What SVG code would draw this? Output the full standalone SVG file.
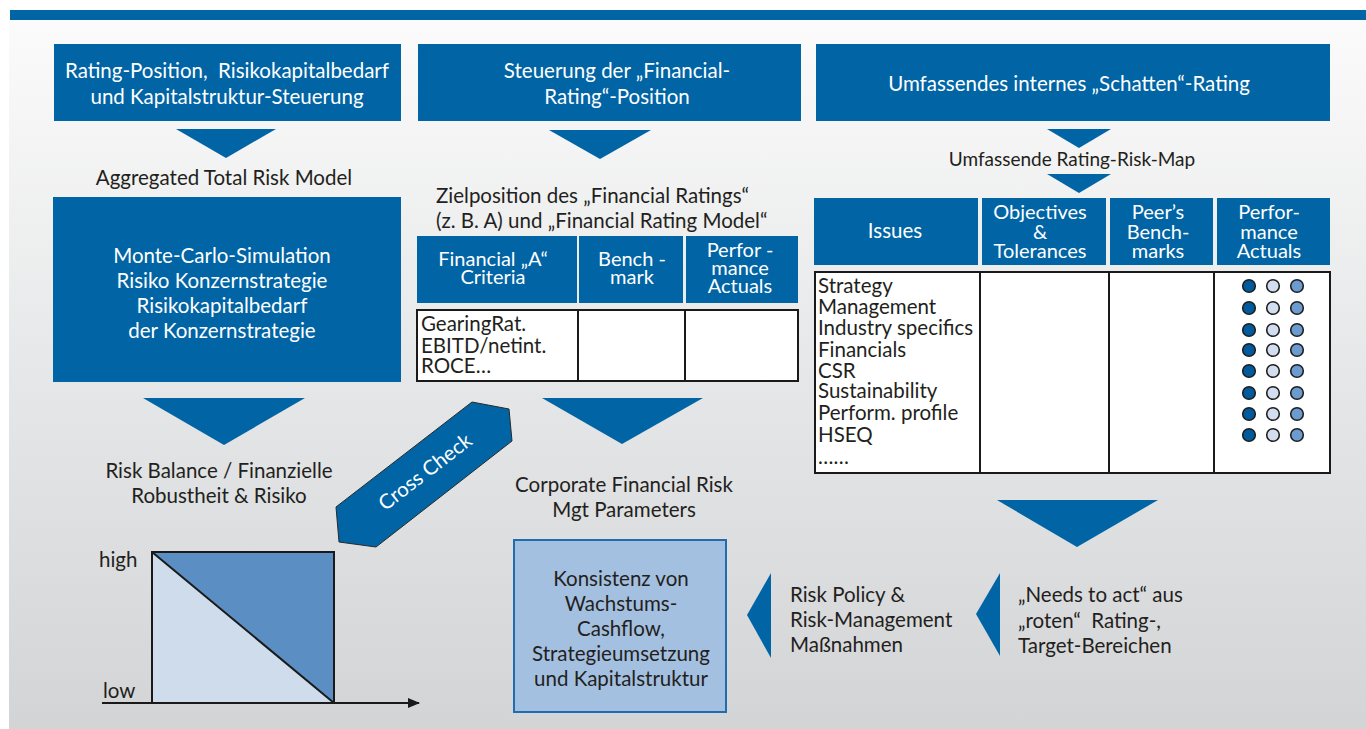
<svg xmlns="http://www.w3.org/2000/svg" width="1366" height="729" viewBox="0 0 1366 729">
  <defs>
    <linearGradient id="panelGrad" x1="0" y1="0" x2="0" y2="1">
      <stop offset="0" stop-color="#fbfbfb"/>
      <stop offset="0.5" stop-color="#e6e7e8"/>
      <stop offset="1" stop-color="#d3d4d6"/>
    </linearGradient>
    <marker id="axisHead" markerWidth="12" markerHeight="10" refX="11" refY="5" orient="auto" markerUnits="userSpaceOnUse">
      <path d="M0,0 L12,5 L0,10 z" fill="#1a1a1a"/>
    </marker>
    <style>
      text { font-family: Lato, "Open Sans", "Liberation Sans", sans-serif; font-size: 20.5px; fill: #231f20; }
      .w { fill: #ffffff; }
      .c { text-anchor: middle; }
      .hc { font-size: 20px; }
      .pre { white-space: pre; }
      .blue { fill: #0064a5; }
      .arrow { fill: #0064a5; }
      .cell { fill: #ffffff; stroke: #1a1a1a; stroke-width: 2; }
      .grid { stroke: #1a1a1a; stroke-width: 2; }
      .dot { stroke: #1f1f1f; stroke-width: 1.6; }
      .d1 { fill: #005a9c; }
      .d2 { fill: #d2def0; }
      .d3 { fill: #6c9bd0; }
    </style>
  </defs>

  <!-- page background -->
  <rect x="0" y="0" width="1366" height="729" fill="#ffffff"/>
  <rect x="9" y="20" width="1357" height="709" fill="url(#panelGrad)"/>
  <rect x="10" y="10" width="1356" height="10" fill="#0064a5"/>

  <!-- connectors: flow arrows -->
  <g id="connectors">
    <polygon class="arrow" points="176,129 276,129 226,158"/>
    <polygon class="arrow" points="549,130 651,130 600,159"/>
    <polygon class="arrow" points="1047,129 1111,129 1079,148"/>
    <polygon class="arrow" points="1047,174 1111,174 1079,193"/>
    <polygon class="arrow" points="143,398 305,398 224,445"/>
    <polygon class="arrow" points="542,398 703,398 622,444"/>
    <polygon class="arrow" points="997,500 1158,500 1077,547"/>
    <polygon class="arrow" points="1000,573 1000,656 976,614"/>
    <polygon class="arrow" points="771,573 771,658 747,615"/>
  </g>

  <!-- header: rating position -->
  <g id="hdr-rating-position">
    <rect class="blue" x="54" y="44" width="347" height="77"/>
    <text class="w c pre" x="227" y="78">Rating-Position,  Risikokapitalbedarf</text>
    <text class="w c" x="227" y="104">und Kapitalstruktur-Steuerung</text>
  </g>

  <!-- header: financial rating steering -->
  <g id="hdr-financial-rating">
    <rect class="blue" x="418" y="44" width="383" height="77"/>
    <text class="w c" x="617" y="78">Steuerung der „Financial-</text>
    <text class="w c" x="617" y="104">Rating“-Position</text>
  </g>

  <!-- header: shadow rating -->
  <g id="hdr-shadow-rating">
    <rect class="blue" x="816" y="44" width="514" height="77"/>
    <text class="w c" x="1069" y="91">Umfassendes internes „Schatten“-Rating</text>
  </g>

  <!-- left column -->
  <g id="lbl-aggregated">
    <text class="c" x="224" y="185">Aggregated Total Risk Model</text>
  </g>
  <g id="monte-carlo">
    <rect class="blue" x="53" y="197" width="348" height="185"/>
    <text class="w c" x="222" y="263">Monte-Carlo-Simulation</text>
    <text class="w c" x="222" y="288">Risiko Konzernstrategie</text>
    <text class="w c" x="222" y="313">Risikokapitalbedarf</text>
    <text class="w c" x="222" y="338">der Konzernstrategie</text>
  </g>
  <g id="lbl-risk-balance">
    <text class="c" x="219" y="478">Risk Balance / Finanzielle</text>
    <text class="c" x="219" y="503">Robustheit &amp; Risiko</text>
  </g>

  <!-- risk balance chart -->
  <g id="risk-chart">
    <polygon points="152,552 152,703 334,703" fill="#cfdcec"/>
    <polygon points="152,552 334,552 334,703" fill="#5b8fc4"/>
    <rect x="152" y="552" width="182" height="151" fill="none" stroke="#1a1a1a" stroke-width="2"/>
    <line x1="152" y1="552" x2="334" y2="703" stroke="#1a1a1a" stroke-width="2"/>
    <line x1="102" y1="703" x2="419" y2="703" stroke="#1a1a1a" stroke-width="2" marker-end="url(#axisHead)"/>
    <text x="99" y="567">high</text>
    <text x="103" y="698">low</text>
  </g>

  <!-- cross check band -->
  <g id="cross-check">
    <polygon points="472,402 509,409 512,441 376,547 339,542 336,507" fill="#0064a5" stroke="#2a2a2a" stroke-width="1"/>
    <text class="w c" x="425" y="479" transform="rotate(-37.7 425 472)">Cross Check</text>
  </g>

  <!-- middle column -->
  <g id="lbl-zielposition">
    <text x="436" y="203">Zielposition des „Financial Ratings“</text>
    <text x="436" y="228">(z. B. A) und „Financial Rating Model“</text>
  </g>
  <g id="tbl-financial">
    <rect class="blue" x="417" y="236" width="160" height="67"/>
    <rect class="blue" x="579" y="236" width="104" height="67"/>
    <rect class="blue" x="686" y="236" width="112" height="67"/>
    <text class="w c hc" x="493" y="266">Financial „A“<tspan x="493" y="284">Criteria</tspan></text>
    <text class="w c hc" x="632" y="266">Bench -<tspan x="632" y="284">mark</tspan></text>
    <text class="w c hc" x="740" y="257">Perfor -<tspan x="740" y="275">mance</tspan><tspan x="740" y="293">Actuals</tspan></text>
    <rect class="cell" x="417" y="310" width="381" height="71"/>
    <line class="grid" x1="578" y1="310" x2="578" y2="381"/>
    <line class="grid" x1="685" y1="310" x2="685" y2="381"/>
    <text x="421" y="331">GearingRat.<tspan x="421" y="353">EBITD/netint.</tspan><tspan x="421" y="373">ROCE…</tspan></text>
  </g>
  <g id="lbl-corporate">
    <text class="c" x="624" y="492">Corporate Financial Risk</text>
    <text class="c" x="624" y="517">Mgt Parameters</text>
  </g>
  <g id="konsistenz">
    <rect x="514" y="540" width="212" height="172" fill="#a4c0e0" stroke="#1f6db0" stroke-width="2"/>
    <text class="c" x="621" y="586">Konsistenz von</text>
    <text class="c" x="621" y="611">Wachstums-</text>
    <text class="c" x="621" y="636">Cashflow,</text>
    <text class="c" x="621" y="661">Strategieumsetzung</text>
    <text class="c" x="621" y="686">und Kapitalstruktur</text>
  </g>
  <g id="lbl-risk-policy">
    <text x="790" y="602">Risk Policy &amp;</text>
    <text x="790" y="627">Risk-Management</text>
    <text x="790" y="652">Maßnahmen</text>
  </g>
  <g id="lbl-needs-to-act">
    <text x="1018" y="602">„Needs to act“ aus</text>
    <text class="pre" x="1018" y="628">„roten“  Rating-,</text>
    <text x="1018" y="653">Target-Bereichen</text>
  </g>

  <!-- right column -->
  <g id="lbl-risk-map">
    <text class="c" x="1072" y="166" style="font-size:19px">Umfassende Rating-Risk-Map</text>
  </g>
  <g id="tbl-risk-map">
    <rect class="blue" x="814" y="198" width="164" height="67"/>
    <rect class="blue" x="982" y="198" width="124" height="67"/>
    <rect class="blue" x="1110" y="198" width="103" height="67"/>
    <rect class="blue" x="1217" y="198" width="113" height="67"/>
    <text class="w c" x="895" y="238">Issues</text>
    <text class="w c hc" x="1040" y="219">Objectives<tspan x="1040" y="239">&amp;</tspan><tspan x="1040" y="258">Tolerances</tspan></text>
    <text class="w c hc" x="1158" y="219">Peer’s<tspan x="1158" y="239">Bench-</tspan><tspan x="1158" y="258">marks</tspan></text>
    <text class="w c hc" x="1269" y="219">Perfor-<tspan x="1269" y="239">mance</tspan><tspan x="1269" y="258">Actuals</tspan></text>
    <rect class="cell" x="815" y="272" width="515" height="201"/>
    <line class="grid" x1="980" y1="272" x2="980" y2="473"/>
    <line class="grid" x1="1109" y1="272" x2="1109" y2="473"/>
    <line class="grid" x1="1214" y1="272" x2="1214" y2="473"/>
    <text x="818" y="293">Strategy<tspan x="818" y="314">Management</tspan><tspan x="818" y="335">Industry specifics</tspan><tspan x="818" y="357">Financials</tspan><tspan x="818" y="378">CSR</tspan><tspan x="818" y="398">Sustainability</tspan><tspan x="818" y="420">Perform. profile</tspan><tspan x="818" y="442">HSEQ</tspan><tspan x="818" y="464">……</tspan></text>
  </g>
  <g id="rating-dots">
    <g transform="translate(0,286)"><circle class="dot d1" cx="1249" cy="0" r="6.3"/><circle class="dot d2" cx="1273" cy="0" r="6.3"/><circle class="dot d3" cx="1297" cy="0" r="6.3"/></g>
    <g transform="translate(0,308)"><circle class="dot d1" cx="1249" cy="0" r="6.3"/><circle class="dot d2" cx="1273" cy="0" r="6.3"/><circle class="dot d3" cx="1297" cy="0" r="6.3"/></g>
    <g transform="translate(0,330)"><circle class="dot d1" cx="1249" cy="0" r="6.3"/><circle class="dot d2" cx="1273" cy="0" r="6.3"/><circle class="dot d3" cx="1297" cy="0" r="6.3"/></g>
    <g transform="translate(0,350)"><circle class="dot d1" cx="1249" cy="0" r="6.3"/><circle class="dot d2" cx="1273" cy="0" r="6.3"/><circle class="dot d3" cx="1297" cy="0" r="6.3"/></g>
    <g transform="translate(0,371)"><circle class="dot d1" cx="1249" cy="0" r="6.3"/><circle class="dot d2" cx="1273" cy="0" r="6.3"/><circle class="dot d3" cx="1297" cy="0" r="6.3"/></g>
    <g transform="translate(0,393)"><circle class="dot d1" cx="1249" cy="0" r="6.3"/><circle class="dot d2" cx="1273" cy="0" r="6.3"/><circle class="dot d3" cx="1297" cy="0" r="6.3"/></g>
    <g transform="translate(0,414)"><circle class="dot d1" cx="1249" cy="0" r="6.3"/><circle class="dot d2" cx="1273" cy="0" r="6.3"/><circle class="dot d3" cx="1297" cy="0" r="6.3"/></g>
    <g transform="translate(0,435)"><circle class="dot d1" cx="1249" cy="0" r="6.3"/><circle class="dot d2" cx="1273" cy="0" r="6.3"/><circle class="dot d3" cx="1297" cy="0" r="6.3"/></g>
  </g>
</svg>
